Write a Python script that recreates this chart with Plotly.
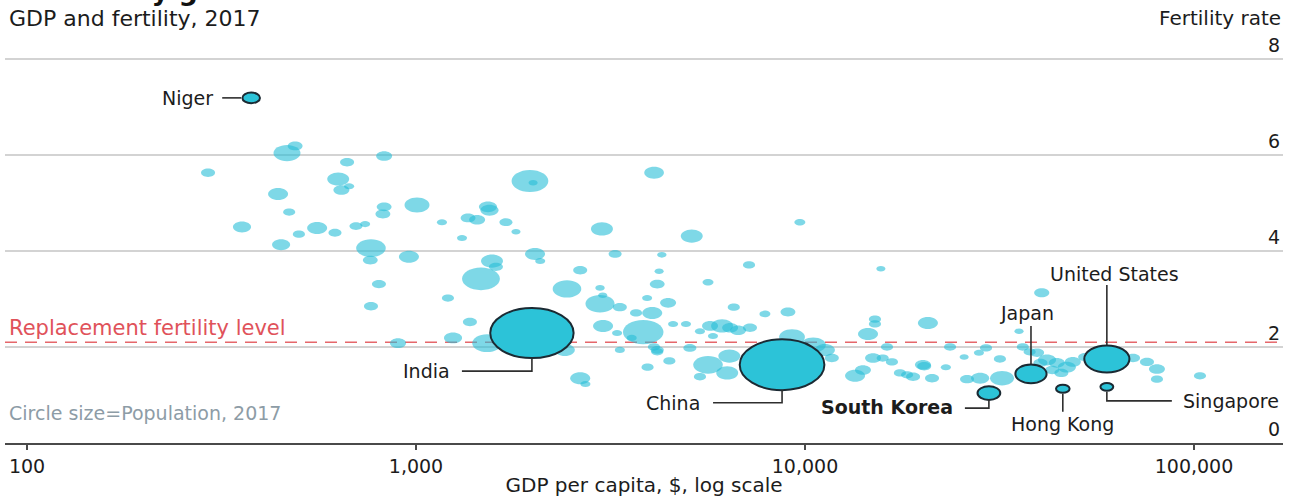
import math
import plotly.graph_objects as go

# ---------------------------------------------------------------------------
# Data: GDP per capita ($), total fertility rate and population (millions), 2017
# ---------------------------------------------------------------------------
gdp_per_capita = [
    292, 466, 489, 665, 828, 631, 673, 643, 442, 1006, 828, 822, 472, 1166, 357,
    500, 557, 619, 701, 740, 450, 766, 959, 763, 803, 766, 1208, 1963, 2000, 4093,
    1531, 1545, 1361, 1436, 1703, 1313, 1807, 3006, 5115, 9700, 2023, 2086, 1568,
    1605, 1469, 3250, 4285, 4217, 2643, 4170, 7180, 5632, 2444, 2972, 3020, 2972,
    3342, 3928, 4447, 3679, 4048, 6560, 7886, 9040, 1376, 1245, 899, 1523, 2413,
    2643, 2726, 3026, 3838, 4580, 3342, 4170, 3938, 4480, 3585, 3288, 15670, 4943,
    5370, 5700, 6120, 6420, 6730, 7220, 5800, 15130, 15130, 14520, 20700, 9260,
    10500, 4090, 4170, 5058, 5632, 6390, 6310, 5370, 11720, 11250, 14960, 15840,
    16250, 16730, 14090, 13450, 17540, 18960, 20250, 21210, 23020, 23600, 40600,
    35500, 25650, 29200, 28000, 31700, 20100, 18300, 26100, 28200, 32100, 36300,
    37800, 39500, 41900, 44400, 47100, 48800, 40300, 43200, 45600, 69700, 75700,
    80300, 80300, 52500, 103600,
]
fertility_rate = [
    5.63, 6.04, 6.19, 5.85, 5.98, 5.50, 5.35, 5.27, 5.19, 4.96, 4.92, 4.77, 4.81,
    4.60, 4.50, 4.35, 4.48, 4.38, 4.52, 4.56, 4.13, 4.06, 3.88, 3.81, 3.31, 2.85,
    3.02, 5.46, 5.42, 5.63, 4.92, 4.85, 4.69, 4.65, 4.60, 4.27, 4.40, 4.46, 4.31,
    4.60, 3.94, 3.79, 3.79, 3.67, 3.42, 3.94, 3.92, 3.58, 3.60, 3.31, 3.71, 3.35,
    3.21, 3.23, 3.08, 2.90, 2.83, 3.02, 2.92, 2.71, 2.71, 2.83, 2.69, 2.73, 2.52,
    2.19, 2.08, 2.08, 1.94, 1.35, 1.23, 2.44, 2.31, 2.48, 1.94, 1.94, 1.58, 1.71,
    2.19, 2.29, 3.63, 2.48, 2.33, 2.44, 2.44, 2.40, 2.35, 2.40, 2.23, 2.58, 2.48,
    2.27, 2.50, 2.21, 2.04, 2.00, 1.90, 1.98, 1.63, 1.81, 1.46, 1.38, 1.77, 1.94,
    1.77, 1.77, 2.00, 1.69, 1.52, 1.40, 1.46, 1.38, 1.60, 1.35, 1.58, 2.00, 3.13,
    2.33, 1.79, 1.98, 1.88, 1.75, 1.63, 1.42, 1.33, 1.35, 1.35, 2.00, 1.90, 1.88,
    1.73, 1.67, 1.58, 1.69, 1.67, 1.52, 1.46, 1.77, 1.69, 1.54, 1.33, 1.79, 1.40,
]
population_m = [
    8.5, 85, 11, 8.5, 15, 46, 1, 15, 34, 68, 11, 11, 4, 1, 24, 4, 34, 6, 6, 1,
    24, 110, 34, 11, 8.5, 8.5, 4, 195, 0.3, 32, 24, 24, 11, 15, 6, 1, 0.3, 46, 46,
    2, 34, 1, 46, 8.5, 210, 6, 0.5, 0.3, 8.5, 11, 4, 2, 100, 0.5, 0.3, 105, 8.5,
    1, 15, 4, 34, 4, 2, 11, 8.5, 24, 15, 110, 34, 34, 1, 34, 250, 1, 1, 6, 4, 4,
    1, 1, 0.3, 1, 1, 15, 46, 15, 15, 8.5, 1, 4, 4, 34, 34, 75, 70, 4, 4, 6, 110,
    46, 46, 4, 8.5, 34, 15, 4, 4, 4, 15, 34, 4, 8.5, 8.5, 8.5, 1, 4, 12, 0.3, 0.3,
    4, 1, 4, 15, 4, 8.5, 24, 60, 4, 4, 8.5, 24, 15, 24, 15, 8.5, 8.5, 8.5, 8.5,
    8.5, 15, 4, 8.5, 4,
]

named_countries = ["Niger", "India", "China", "South Korea", "Hong Kong",
                   "Singapore", "Japan", "United States"]
named_gdp = [377, 1986, 8730, 29700, 46000, 59700, 38100, 59700]
named_fertility = [7.19, 2.29, 1.63, 1.04, 1.13, 1.17, 1.44, 1.75]
named_population = [21.5, 1339, 1386, 51.5, 7.4, 5.6, 127, 325]

replacement_level = 2.1

x_tickvals = [100, 1000, 10000, 100000]
x_ticktext = ["100", "1,000", "10,000", "100,000"]
y_tickvals = [0, 2, 4, 6, 8]

# ---------------------------------------------------------------------------
# Styling
# ---------------------------------------------------------------------------
FONT = "DejaVu Sans"
TEXT = "#1c1c1c"
LIGHT_FILL = "rgba(40,190,215,0.6)"
DARK_FILL = "#2cc3d8"
OUTLINE = "#1b2a33"
LEADER = "#2e2e2e"
ASPECT = 0.6            # bubbles are drawn as wide ellipses
KAPPA = 0.5523          # cubic-Bezier constant for a quarter ellipse

Y_TOP = 8.75            # headroom above the top gridline for its label
MARGIN_T, MARGIN_B = 23, 54
PLOT_H = 497 - MARGIN_T - MARGIN_B


def bubble_width(pop):
    return 8 + 2.06 * math.sqrt(pop)


def ellipse_path(w, h):
    """Closed ellipse path centred on (0, 0), in pixel offsets."""
    rx, ry = w / 2, h / 2
    kx, ky = KAPPA * rx, KAPPA * ry
    return (f"M{rx},0 "
            f"C{rx},{ky} {kx},{ry} 0,{ry} "
            f"C{-kx},{ry} {-rx},{ky} {-rx},0 "
            f"C{-rx},{-ky} {-kx},{-ry} 0,{-ry} "
            f"C{kx},{-ry} {rx},{-ky} {rx},0 Z")


# label placement per named country: text offset (px, screen y downwards),
# anchor, and leader path as pixel offsets from the bubble centre
label_style = {
    "Niger":         dict(dx=-36, dy=0,   xanchor="right",  path=[(-29, 0), (-10, 0)]),
    "India":         dict(dx=-80, dy=38,  xanchor="right",  path=[(0, 25), (0, 38), (-70, 38)]),
    "China":         dict(dx=-80, dy=38,  xanchor="right",  path=[(0, 25), (0, 38), (-69, 38)]),
    "South Korea":   dict(dx=-34, dy=14,  xanchor="right",  path=[(0, 7), (0, 15), (-24, 15)], bold=True),
    "Hong Kong":     dict(dx=0,   dy=35,  xanchor="center", path=[(0, 5), (0, 23)]),
    "Singapore":     dict(dx=74,  dy=14,  xanchor="left",   path=[(0, 5), (0, 14), (65, 14)]),
    "Japan":         dict(dx=-4,  dy=-61, xanchor="center", path=[(0, -48), (0, -10)]),
    "United States": dict(dx=8,   dy=-85, xanchor="center", path=[(0, -74), (0, -14)]),
}

fig = go.Figure()

# hover layer carrying the data
fig.add_trace(go.Scatter(
    x=gdp_per_capita + named_gdp,
    y=fertility_rate + named_fertility,
    mode="markers",
    marker=dict(size=10, opacity=0),
    text=[""] * len(gdp_per_capita) + named_countries,
    hovertemplate="%{text}<br>GDP per capita: $%{x:,.0f}<br>Fertility: %{y:.2f}<extra></extra>",
    showlegend=False,
))

shapes = []

# replacement fertility line
shapes.append(dict(
    type="line", xref="paper", x0=0, x1=1, yref="y",
    y0=replacement_level, y1=replacement_level,
    line=dict(color="#e5676b", width=1.5, dash="12px,8px"),
))


def bubble(g, f, p, fill, line):
    w = bubble_width(p)
    return dict(
        type="path", xref="x", yref="y",
        xsizemode="pixel", ysizemode="pixel", xanchor=g, yanchor=f,
        path=ellipse_path(w, w * ASPECT),
        fillcolor=fill, line=line,
    )


# unlabelled countries
for g, f, p in zip(gdp_per_capita, fertility_rate, population_m):
    shapes.append(bubble(g, f, p, LIGHT_FILL, dict(width=0)))

# labelled countries
for g, f, p in zip(named_gdp, named_fertility, named_population):
    shapes.append(bubble(g, f, p, DARK_FILL, dict(color=OUTLINE, width=2)))

# leader lines
for name, g, f in zip(named_countries, named_gdp, named_fertility):
    pts = label_style[name]["path"]
    path = "M" + " L".join(f"{dx},{-dy}" for dx, dy in pts)
    shapes.append(dict(
        type="path", xref="x", yref="y",
        xsizemode="pixel", ysizemode="pixel", xanchor=g, yanchor=f,
        path=path, line=dict(color=LEADER, width=1.6),
    ))

annotations = []
for name, g, f in zip(named_countries, named_gdp, named_fertility):
    st = label_style[name]
    txt = f"<b>{name}</b>" if st.get("bold") else name
    annotations.append(dict(
        x=math.log10(g), y=f, xref="x", yref="y", text=txt, showarrow=False,
        xanchor=st["xanchor"], yanchor="middle",
        xshift=st["dx"], yshift=-st["dy"],
        font=dict(family=FONT, size=19, color=TEXT),
    ))


def paper_y(px):
    """Paper coordinate for a pixel row measured from the top of the figure."""
    return (497 - MARGIN_B - px) / PLOT_H


# headings and notes
annotations += [
    dict(x=0.0, y=paper_y(8), xref="paper", yref="paper", text="<b>Gone baby gone</b>",
         showarrow=False, xanchor="left", yanchor="bottom",
         font=dict(family=FONT, size=27, color="#111111")),
    dict(x=0.0016, y=paper_y(18), xref="paper", yref="paper",
         text="GDP and fertility, 2017", showarrow=False,
         xanchor="left", yanchor="middle",
         font=dict(family=FONT, size=22, color=TEXT)),
    dict(x=1.0, y=paper_y(18), xref="paper", yref="paper",
         text="Fertility rate", showarrow=False,
         xanchor="right", yanchor="middle",
         font=dict(family=FONT, size=20, color=TEXT)),
    dict(x=0.0016, y=replacement_level, xref="paper", yref="y",
         text="Replacement fertility level", showarrow=False,
         xanchor="left", yanchor="bottom", yshift=0,
         font=dict(family=FONT, size=21, color="#e0525a")),
    dict(x=0.0016, y=paper_y(413), xref="paper", yref="paper",
         text="Circle size=Population, 2017", showarrow=False,
         xanchor="left", yanchor="middle",
         font=dict(family=FONT, size=19, color="#8d9ca6")),
]

fig.update_layout(
    width=1300, height=497,
    margin=dict(l=5, r=17, t=MARGIN_T, b=MARGIN_B),
    paper_bgcolor="white", plot_bgcolor="white",
    font=dict(family=FONT, color=TEXT),
    shapes=shapes,
    annotations=annotations,
    showlegend=False,
    xaxis=dict(
        type="log",
        range=[1.94344, 5.22879],
        tickvals=x_tickvals, ticktext=x_ticktext,
        showgrid=False, zeroline=False,
        showline=True, linecolor="#4a4a4a", linewidth=2,
        ticks="outside", ticklen=5, tickwidth=1.5, tickcolor="#4a4a4a",
        tickfont=dict(family=FONT, size=19, color=TEXT),
        title=dict(text="GDP per capita, $, log scale", standoff=2,
                   font=dict(family=FONT, size=20, color=TEXT)),
    ),
    yaxis=dict(
        range=[0, Y_TOP], tickvals=y_tickvals,
        side="right", ticklabelposition="inside top",
        showgrid=True, gridcolor="#d3d3d3", gridwidth=1.5,
        zeroline=False, showline=False, ticks="",
        tickfont=dict(family=FONT, size=19, color=TEXT),
    ),
)

fig.write_html("out.html")
